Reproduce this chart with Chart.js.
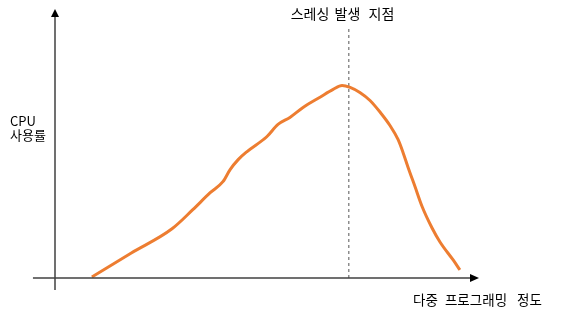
<!DOCTYPE html>
<html>
<head>
<meta charset="utf-8">
<script src="https://cdn.jsdelivr.net/npm/chart.js@4"></script>
<style>
  html, body { margin: 0; padding: 0; background: #fff; }
  #wrap { width: 576px; height: 317px; }
</style>
</head>
<body>
<div id="wrap"><canvas id="c" width="576" height="317"></canvas></div>
<script>
// 다중 프로그래밍 정도 (x) / CPU 사용률 (y), 0~100 상대값
const degreeX = [8.7, 18.0, 27.6, 32.5, 36.6, 39.6, 41.3, 43.2, 45.3, 50.0, 52.6, 55.4, 58.5, 62.5, 65.6, 67.7, 69.6, 71.9, 74.3, 76.7, 79.0, 80.9, 82.1, 83.3, 84.9, 86.6, 88.9, 90.8, 93.9, 95.5];
const cpuUsage = [0.4, 9.3, 18.3, 25.4, 31.7, 35.8, 40.3, 44.0, 47.0, 52.6, 57.1, 59.7, 63.4, 67.2, 70.1, 71.6, 70.9, 69.0, 66.0, 61.6, 56.7, 51.5, 46.6, 41.0, 34.0, 26.5, 18.7, 13.4, 6.7, 3.0];
const thrashingX = 69.3;
const thrashingTop = 93.7;

const titleWords = ["스레싱", "발생", "지점"];
const yLabel = ["CPU", "사용률"];
const xLabelWords = ["다중", "프로그래밍", "정도"];

// 단어별 중심 x - 원본 글자 간격을 맞추기 위함
const titleWordX = [310, 347.5, 381.5];
const xLabelWordX = [425.5, 476, 529.5];

const axisPlugin = {
  id: "axisArrows",
  afterDraw(chart) {
    const ctx = chart.ctx;
    const xs = chart.scales.x, ys = chart.scales.y;
    const x0 = xs.getPixelForValue(0), y0 = ys.getPixelForValue(0);
    const xEnd = xs.getPixelForValue(100), yEnd = ys.getPixelForValue(100);
    ctx.save();
    ctx.strokeStyle = "#404040";
    ctx.fillStyle = "#000";
    ctx.lineWidth = 1.5;
    // y axis
    ctx.beginPath();
    ctx.moveTo(x0, ys.getPixelForValue(-4.5));
    ctx.lineTo(x0, yEnd + 6);
    ctx.stroke();
    ctx.beginPath();
    ctx.moveTo(x0, yEnd);
    ctx.lineTo(x0 - 4, yEnd + 8);
    ctx.lineTo(x0 + 4, yEnd + 8);
    ctx.closePath();
    ctx.fill();
    // x axis
    ctx.beginPath();
    ctx.moveTo(xs.getPixelForValue(-5.2), y0);
    ctx.lineTo(xEnd - 6, y0);
    ctx.stroke();
    ctx.beginPath();
    ctx.moveTo(xEnd, y0);
    ctx.lineTo(xEnd - 9, y0 - 4);
    ctx.lineTo(xEnd - 9, y0 + 4);
    ctx.closePath();
    ctx.fill();

    // texts
    ctx.fillStyle = "#000";
    ctx.textBaseline = "middle";
    ctx.textAlign = "center";
    ctx.font = "14px 'Noto Sans CJK KR'";
    titleWords.forEach((w, i) => ctx.fillText(w, titleWordX[i], 14));
    ctx.font = "13.5px 'Noto Sans CJK KR'";
    xLabelWords.forEach((w, i) => ctx.fillText(w, xLabelWordX[i], 300));
    ctx.textAlign = "left";
    ctx.font = "13px 'Noto Sans CJK KR'";
    ctx.fillText(yLabel[0], 10, 121);
    ctx.fillText(yLabel[1], 10, 135);
    ctx.restore();
  }
};

new Chart(document.getElementById("c"), {
  type: "line",
  data: {
    datasets: [
      {
        data: degreeX.map((x, i) => ({ x: x, y: cpuUsage[i] })),
        borderColor: "#ED7D31",
        borderWidth: 3,
        pointRadius: 0,
        cubicInterpolationMode: "monotone",
        fill: false
      },
      {
        data: [{ x: thrashingX, y: 0 }, { x: thrashingX, y: thrashingTop }],
        borderColor: "#555",
        borderWidth: 1,
        borderDash: [3, 3],
        pointRadius: 0,
        fill: false
      }
    ]
  },
  options: {
    responsive: false,
    animation: false,
    layout: { padding: { left: 55, right: 97, top: 9, bottom: 39 } },
    plugins: { legend: { display: false }, tooltip: { enabled: false } },
    scales: {
      x: { type: "linear", min: 0, max: 100, display: false },
      y: { type: "linear", min: 0, max: 100, display: false }
    }
  },
  plugins: [axisPlugin]
});
</script>
</body>
</html>
